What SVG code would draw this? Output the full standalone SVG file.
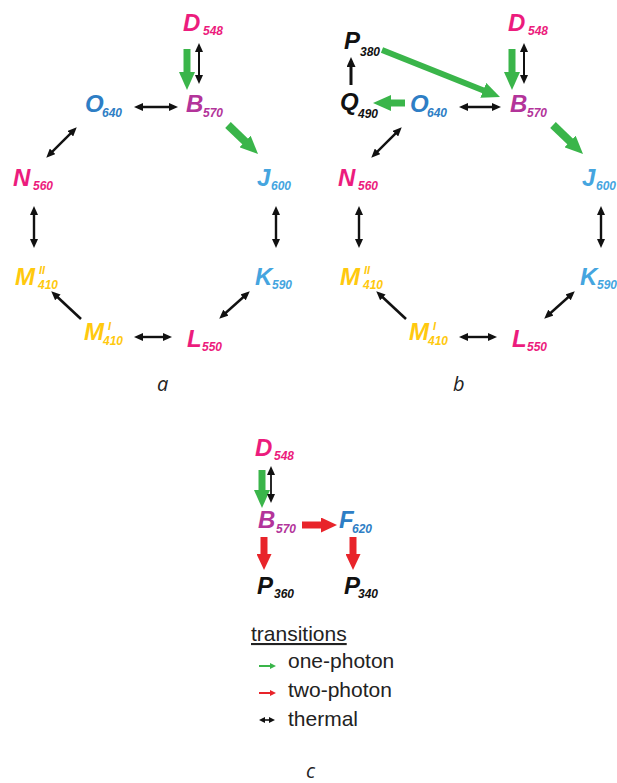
<svg xmlns="http://www.w3.org/2000/svg" width="617" height="783" viewBox="0 0 617 783">
  <style>
    .st { font-family: "Liberation Sans", Arial, sans-serif; font-weight: bold; font-style: italic; font-size: 24px; }
    .sb { font-size: 12px; }
    .sp { font-size: 11px; }
    .pink { fill: #EC1C7D; }
    .purple { fill: #B3349A; }
    .blue { fill: #2E7EC5; }
    .lblue { fill: #45A5DF; }
    .yellow { fill: #FFC90E; }
    .black { fill: #111111; }
    .panel { font-family: "Open Sans", "DejaVu Sans", sans-serif; font-style: italic; font-size: 20px; fill: #222222; }
    .legend { font-family: "Liberation Sans", Arial, sans-serif; font-size: 21px; fill: #222222; }
    .fatG { stroke: #3AB54A; stroke-width: 7; fill: none; marker-end: url(#headG); }
    .fatR { stroke: #E8242A; stroke-width: 7; fill: none; marker-end: url(#headR); }
    .th { stroke: #111111; stroke-width: 2.4; fill: none; marker-start: url(#headK); marker-end: url(#headK); }
    .th1 { stroke: #111111; stroke-width: 2.6; fill: none; marker-end: url(#headK); }
  </style>
  <defs>
    <marker id="headG" markerUnits="userSpaceOnUse" markerWidth="18" markerHeight="16" refX="1" refY="8" orient="auto">
      <path d="M0,0 L18,8 L0,16 z" fill="#3AB54A"/>
    </marker>
    <marker id="headR" markerUnits="userSpaceOnUse" markerWidth="16" markerHeight="15" refX="1" refY="7.5" orient="auto">
      <path d="M0,0 L16,7.5 L0,15 z" fill="#E8242A"/>
    </marker>
    <marker id="headK" markerUnits="userSpaceOnUse" markerWidth="9" markerHeight="8" refX="5" refY="4" orient="auto-start-reverse">
      <path d="M0,0 L9,4 L0,8 z" fill="#111111"/>
    </marker>
    <marker id="headKL" markerUnits="userSpaceOnUse" markerWidth="10" markerHeight="9" refX="6" refY="4.5" orient="auto">
      <path d="M0,0 L10,4.5 L0,9 z" fill="#111111"/>
    </marker>
    <marker id="smG" markerUnits="userSpaceOnUse" markerWidth="6" markerHeight="6" refX="4" refY="3" orient="auto">
      <path d="M0,0 L6,3 L0,6 z" fill="#3AB54A"/>
    </marker>
    <marker id="smR" markerUnits="userSpaceOnUse" markerWidth="6" markerHeight="6" refX="4" refY="3" orient="auto">
      <path d="M0,0 L6,3 L0,6 z" fill="#E8242A"/>
    </marker>
    <marker id="smK" markerUnits="userSpaceOnUse" markerWidth="6" markerHeight="6" refX="4" refY="3" orient="auto-start-reverse">
      <path d="M0,0 L6,3 L0,6 z" fill="#111111"/>
    </marker>
  </defs>

  <rect width="617" height="783" fill="#ffffff"/>

  <!-- connectors -->
  <g id="connectors">
    <!-- panel a -->
    <line class="fatG" x1="187" y1="49" x2="187" y2="73"/>
    <line class="th" x1="199" y1="47" x2="199" y2="80" style="stroke-width:2"/>
    <line class="th" x1="138" y1="107" x2="174" y2="107"/>
    <line class="fatG" x1="228" y1="125" x2="245.8" y2="142.2" style="stroke-width:8"/>
    <line class="th" x1="49.1" y1="154.9" x2="73.9" y2="130.1"/>
    <line class="th" x1="34" y1="210" x2="34" y2="244"/>
    <line class="th" x1="276" y1="210" x2="276" y2="244"/>
    <line class="th1" x1="81" y1="319" x2="54.2" y2="294"/>
    <line class="th" x1="138" y1="337" x2="168" y2="337"/>
    <line class="th" x1="222.2" y1="316" x2="246.8" y2="294"/>

    <!-- panel b -->
    <line class="fatG" x1="512" y1="49" x2="512" y2="73"/>
    <line class="th" x1="524" y1="47" x2="524" y2="80" style="stroke-width:2"/>
    <line class="th" x1="463" y1="107" x2="497" y2="107"/>
    <line class="fatG" x1="553" y1="125" x2="570.8" y2="142.2" style="stroke-width:8"/>
    <line class="fatG" x1="382" y1="50" x2="484.2" y2="90.7" style="stroke-width:6"/>
    <line class="fatG" x1="405" y1="103" x2="390" y2="103"/>
    <line x1="351" y1="85" x2="351" y2="61" stroke="#111111" stroke-width="3" marker-end="url(#headKL)"/>
    <line class="th" x1="374.1" y1="154.9" x2="398.9" y2="130.1"/>
    <line class="th" x1="359" y1="210" x2="359" y2="244"/>
    <line class="th" x1="601" y1="210" x2="601" y2="244"/>
    <line class="th1" x1="406" y1="319" x2="379.2" y2="294"/>
    <line class="th" x1="463" y1="337" x2="493" y2="337"/>
    <line class="th" x1="547.2" y1="316" x2="571.8" y2="294"/>

    <!-- panel c -->
    <line class="fatG" x1="262" y1="470" x2="262" y2="491"/>
    <line class="th" x1="271" y1="470" x2="271" y2="499" style="stroke-width:1.8"/>
    <line class="fatR" x1="302" y1="525" x2="322" y2="525"/>
    <line class="fatR" x1="264" y1="537" x2="264" y2="555"/>
    <line class="fatR" x1="353" y1="537" x2="353" y2="555"/>

    <!-- legend keys -->
    <line x1="259" y1="666" x2="274" y2="666" stroke="#3AB54A" stroke-width="2" marker-end="url(#smG)"/>
    <line x1="259" y1="693" x2="274" y2="693" stroke="#E8242A" stroke-width="2" marker-end="url(#smR)"/>
    <line x1="261" y1="720" x2="273" y2="720" stroke="#111111" stroke-width="1.6" marker-start="url(#smK)" marker-end="url(#smK)"/>
  </g>

  <!-- panel a states -->
  <g id="a-D548"><text class="st pink"><tspan x="183" y="31">D</tspan><tspan class="sb" x="203" y="35">548</tspan></text></g>
  <g id="a-B570"><text class="st purple"><tspan x="186" y="112">B</tspan><tspan class="sb" x="203" y="117">570</tspan></text></g>
  <g id="a-O640"><text class="st blue"><tspan x="85" y="112">O</tspan><tspan class="sb" x="102" y="117">640</tspan></text></g>
  <g id="a-N560"><text class="st pink"><tspan x="13" y="186">N</tspan><tspan class="sb" x="33" y="190">560</tspan></text></g>
  <g id="a-J600"><text class="st lblue"><tspan x="257" y="186">J</tspan><tspan class="sb" x="271" y="190">600</tspan></text></g>
  <g id="a-M2"><text class="st yellow"><tspan x="15" y="285">M</tspan><tspan class="sp" x="39" y="274">II</tspan><tspan class="sb" x="38" y="289">410</tspan></text></g>
  <g id="a-K590"><text class="st lblue"><tspan x="255" y="285">K</tspan><tspan class="sb" x="272" y="289">590</tspan></text></g>
  <g id="a-M1"><text class="st yellow"><tspan x="84" y="340">M</tspan><tspan class="sp" x="108" y="330">I</tspan><tspan class="sb" x="103" y="345">410</tspan></text></g>
  <g id="a-L550"><text class="st pink"><tspan x="187" y="347">L</tspan><tspan class="sb" x="202" y="351">550</tspan></text></g>
  <text class="panel" x="157" y="391">a</text>

  <!-- panel b states -->
  <g id="b-P380"><text class="st black"><tspan x="344" y="49">P</tspan><tspan class="sb" x="360" y="56">380</tspan></text></g>
  <g id="b-Q490"><text class="st black"><tspan x="340" y="110">Q</tspan><tspan class="sb" x="358" y="118">490</tspan></text></g>
  <g id="b-D548"><text class="st pink"><tspan x="508" y="31">D</tspan><tspan class="sb" x="528" y="35">548</tspan></text></g>
  <g id="b-B570"><text class="st purple"><tspan x="510" y="112">B</tspan><tspan class="sb" x="527" y="117">570</tspan></text></g>
  <g id="b-O640"><text class="st blue"><tspan x="410" y="112">O</tspan><tspan class="sb" x="427" y="117">640</tspan></text></g>
  <g id="b-N560"><text class="st pink"><tspan x="338" y="186">N</tspan><tspan class="sb" x="358" y="190">560</tspan></text></g>
  <g id="b-J600"><text class="st lblue"><tspan x="582" y="186">J</tspan><tspan class="sb" x="596" y="190">600</tspan></text></g>
  <g id="b-M2"><text class="st yellow"><tspan x="340" y="285">M</tspan><tspan class="sp" x="364" y="274">II</tspan><tspan class="sb" x="363" y="289">410</tspan></text></g>
  <g id="b-K590"><text class="st lblue"><tspan x="580" y="285">K</tspan><tspan class="sb" x="597" y="289">590</tspan></text></g>
  <g id="b-M1"><text class="st yellow"><tspan x="409" y="340">M</tspan><tspan class="sp" x="433" y="330">I</tspan><tspan class="sb" x="428" y="345">410</tspan></text></g>
  <g id="b-L550"><text class="st pink"><tspan x="512" y="347">L</tspan><tspan class="sb" x="527" y="351">550</tspan></text></g>
  <text class="panel" x="453" y="391">b</text>

  <!-- panel c states -->
  <g id="c-D548"><text class="st pink"><tspan x="255" y="456">D</tspan><tspan class="sb" x="274" y="460">548</tspan></text></g>
  <g id="c-B570"><text class="st purple"><tspan x="258" y="528">B</tspan><tspan class="sb" x="276" y="533">570</tspan></text></g>
  <g id="c-F620"><text class="st blue"><tspan x="339" y="528">F</tspan><tspan class="sb" x="352" y="533">620</tspan></text></g>
  <g id="c-P360"><text class="st black"><tspan x="257" y="594">P</tspan><tspan class="sb" x="274" y="598">360</tspan></text></g>
  <g id="c-P340"><text class="st black"><tspan x="344" y="594">P</tspan><tspan class="sb" x="358" y="598">340</tspan></text></g>

  <!-- legend -->
  <g id="legend">
    <text class="legend" x="251" y="641" text-decoration="underline">transitions</text>
    <text class="legend" x="288" y="668">one-photon</text>
    <text class="legend" x="288" y="697">two-photon</text>
    <text class="legend" x="288" y="726">thermal</text>
  </g>
  <text class="panel" x="306" y="778">c</text>
</svg>
